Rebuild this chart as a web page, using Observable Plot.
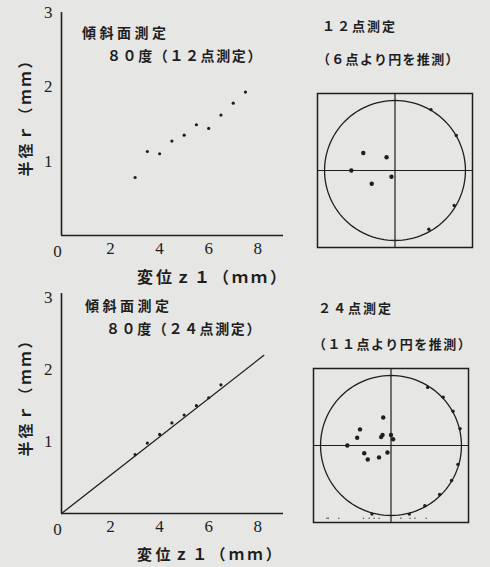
<!DOCTYPE html>
<html>
<head>
<meta charset="utf-8">
<script src="https://cdn.jsdelivr.net/npm/d3@7"></script>
<script src="https://cdn.jsdelivr.net/npm/@observablehq/plot@0.6"></script>
<style>
  html, body { margin: 0; padding: 0; background: #e6e6e4; }
  #page { position: relative; width: 490px; height: 567px; background: #e6e6e4; overflow: hidden; color: #1e1e1e; }
  .t { position: absolute; white-space: nowrap; font-family: "Noto Sans CJK JP", sans-serif; font-weight: bold; line-height: 1; }
  svg { position: absolute; }
  #page svg text { font-family: "Liberation Serif", "DejaVu Serif", serif !important; font-size: 17px !important; fill: #1e1e1e; }
</style>
</head>
<body>
<div id="page"></div>
<script>
// ---------- data ----------
// Top-left: 80 deg, 12-point measurement (displacement z1 vs radius r)
const tlZ = [3.0, 3.5, 4.0, 4.5, 5.0, 5.5, 6.0, 6.5, 7.0, 7.5];
const tlR = [0.78, 1.13, 1.10, 1.27, 1.35, 1.49, 1.44, 1.62, 1.78, 1.93];
// Bottom-left: 80 deg, 24-point measurement
const blZ = [3.0, 3.5, 4.0, 4.5, 5.0, 5.5, 6.0, 6.5];
const blR = [0.82, 0.98, 1.10, 1.26, 1.37, 1.50, 1.61, 1.79];
const blFitZ = [0, 8.25];
const blFitR = [0, 2.2];
// tick labels
const xZeroTick = [0];
const xTicks = [2, 4, 6, 8];
const yTicks = [1, 2, 3];
// Top-right: 12 points, circle estimated from 6 points (normalized units)
const trInnerX = [-0.45, -0.12, -0.62, -0.05, -0.33];
const trInnerY = [0.25, 0.19, 0.00, -0.09, -0.19];
const trEdgeX = [0.51, 0.87, 0.84, 0.48];
const trEdgeY = [0.87, 0.50, -0.50, -0.84];
// Bottom-right: 24 points, circle estimated from 11 points
const brInnerX = [-0.11, -0.44, -0.48, -0.12, -0.14, 0.00, 0.03, -0.62, -0.38, -0.33, -0.17, -0.05];
const brInnerY = [0.40, 0.23, 0.11, 0.15, 0.12, 0.15, 0.09, 0.00, -0.11, -0.20, -0.17, -0.10];
const brEdgeX = [0.52, 0.74, 0.88, 0.98, 0.95, 0.86, 0.69, 0.48, 0.26, -0.27];
const brEdgeY = [0.83, 0.69, 0.49, 0.24, -0.27, -0.50, -0.70, -0.86, -0.98, -0.98];
const brBottomX = [-0.91, -0.89, -0.74, -0.39, -0.31, -0.24, -0.17, 0.14, 0.27, 0.34, 0.50];
const brBottomY = [-1.04, -1.04, -1.04, -1.04, -1.04, -1.04, -1.04, -1.04, -1.04, -1.04, -1.04];
const circleRadius = 1.0;

// ---------- helpers ----------
const ink = "#1e1e1e";
const serif = "'Liberation Serif', 'DejaVu Serif', serif";
const page = document.getElementById("page");
const pts = (xs, ys) => xs.map((x, i) => ({x, y: ys[i]}));
const circlePts = d3.range(0, 361, 3).map(a => ({
  x: circleRadius * Math.cos(a * Math.PI / 180),
  y: circleRadius * Math.sin(a * Math.PI / 180)
}));

function place(el, left, top) {
  el.style.left = left + "px";
  el.style.top = top + "px";
  page.appendChild(el);
}
function label(text, left, cy, size, ls, rotate) {
  const d = document.createElement("div");
  d.className = "t";
  d.textContent = text;
  d.style.fontSize = size + "px";
  d.style.letterSpacing = ls + "px";
  if (rotate) {
    d.style.width = "200px";
    d.style.textAlign = "center";
    d.style.transform = "rotate(-90deg)";
    d.style.transformOrigin = "center center";
    place(d, left - 100, cy - size / 2);
  } else {
    place(d, left, cy - size / 2);
  }
}

function scatterPanel({height, marginTop, marginBottom, yMax, marks}) {
  const tickOpts = {tickSize: 0, label: null, fontSize: 17, fontFamily: serif, tickFormat: d3.format("d"), fill: ink};
  return Plot.plot({
    width: 290, height,
    marginLeft: 61, marginRight: 7, marginTop, marginBottom,
    x: {domain: [0, 9.05]},
    y: {domain: [0, yMax]},
    style: {background: "transparent", fontFamily: serif, fontSize: "17px", color: ink},
    marks: [
      Plot.axisX(xZeroTick, {...tickOpts, tickPadding: 9, dx: -4}),
      Plot.axisX(xTicks, {...tickOpts, tickPadding: 6}),
      Plot.axisY(yTicks, {...tickOpts, tickPadding: 9}),
      Plot.ruleX([0], {stroke: ink, strokeWidth: 1.6}),
      Plot.ruleY([0], {stroke: ink, strokeWidth: 1.6}),
      ...marks
    ]
  });
}

function circlePanel({inner, edge, extra}) {
  return Plot.plot({
    width: 180, height: 175,
    marginLeft: 12, marginRight: 13, marginTop: 10, marginBottom: 11,
    x: {domain: [-1.1, 1.1], axis: null},
    y: {domain: [-1.1, 1.1], axis: null},
    style: {background: "transparent", color: ink},
    marks: [
      Plot.frame({stroke: ink, strokeWidth: 1.5}),
      Plot.ruleX([0], {stroke: ink, strokeWidth: 1.2}),
      Plot.ruleY([0], {stroke: ink, strokeWidth: 1.2}),
      Plot.line(circlePts, {x: "x", y: "y", stroke: ink, strokeWidth: 1.3, curve: "linear"}),
      ...(extra || []),
      Plot.dot(edge, {x: "x", y: "y", r: 1.7, fill: ink, stroke: null}),
      Plot.dot(inner, {x: "x", y: "y", r: 2.2, fill: ink, stroke: null})
    ]
  });
}

// ---------- top-left ----------
const tl = scatterPanel({
  height: 290, marginTop: 12, marginBottom: 55, yMax: 3,
  marks: [Plot.dot(pts(tlZ, tlR), {x: "x", y: "y", r: 1.6, fill: ink, stroke: null})]
});
place(tl, 0, 0);

// ---------- bottom-left ----------
const bl = scatterPanel({
  height: 287, marginTop: 13, marginBottom: 54, yMax: 3.06,
  marks: [
    Plot.line(pts(blFitZ, blFitR), {x: "x", y: "y", stroke: ink, strokeWidth: 1.3}),
    Plot.dot(pts(blZ, blR), {x: "x", y: "y", r: 1.6, fill: ink, stroke: null})
  ]
});
place(bl, 0, 280);

// ---------- top-right ----------
const tr = circlePanel({inner: pts(trInnerX, trInnerY), edge: pts(trEdgeX, trEdgeY)});
place(tr, 305, 83);

// ---------- bottom-right ----------
const br = circlePanel({
  inner: pts(brInnerX, brInnerY), edge: pts(brEdgeX, brEdgeY),
  extra: [Plot.dot(pts(brBottomX, brBottomY), {x: "x", y: "y", r: 0.8, fill: "#555", stroke: null})]
});
place(br, 301, 358);

// ---------- texts ----------
label("傾斜面測定", 82, 32, 14, 3.5);
label("８０度（１２点測定）", 107, 55, 14, 1.6);
label("１２点測定", 322, 25, 13, 2);
label("（６点より円を推測）", 317, 58, 13, 1.3);
label("傾斜面測定", 85, 305, 14, 3.5);
label("８０度（２４点測定）", 106, 328, 14, 1.6);
label("２４点測定", 318, 307, 13, 2);
label("（１１点より円を推測）", 313, 343, 13, 1.5);

label("半径ｒ（ｍｍ）", 24, 113, 15, 3, true);
label("半径ｒ（ｍｍ）", 24, 393, 15, 3, true);
label("変位ｚ１（ｍｍ）", 137, 276, 16, 3);
label("変位ｚ１（ｍｍ）", 137, 553, 15, 3.4);
</script>
</body>
</html>
